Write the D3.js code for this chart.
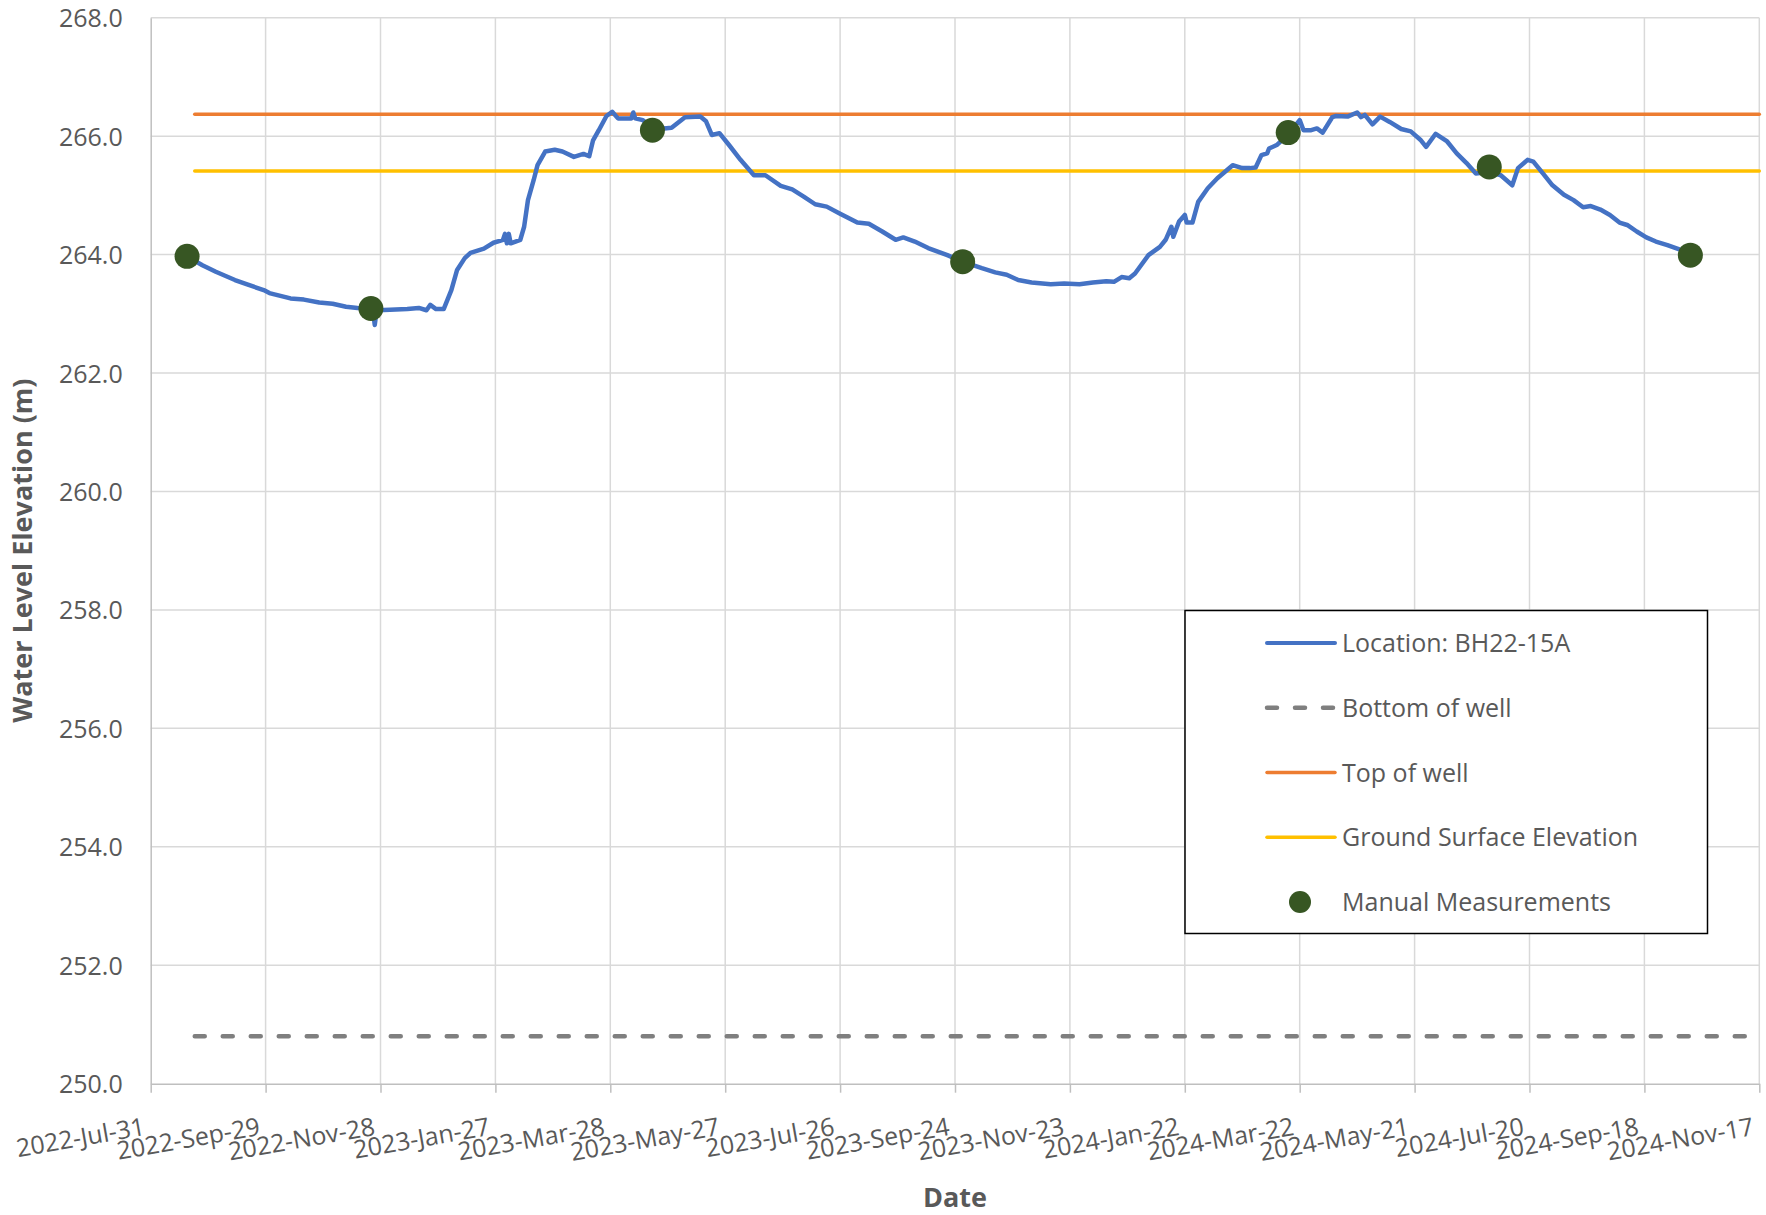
<!DOCTYPE html>
<html>
<head>
<meta charset="utf-8">
<script src="https://cdn.jsdelivr.net/npm/d3@7/dist/d3.min.js"></script>
<style>
  body { margin: 0; background: #fff; }
  text { font-family: "Open Sans", sans-serif; fill: #595959; }
</style>
</head>
<body>
<div id="chart"></div>
<script>
// logger readings
var loggerReadings = [
  ["2022-08-19", 263.97], ["2022-08-27", 263.82], ["2022-09-03", 263.71], ["2022-09-13", 263.57],
  ["2022-09-19", 263.50], ["2022-09-28", 263.40], ["2022-10-01", 263.35], ["2022-10-12", 263.26],
  ["2022-10-19", 263.24], ["2022-10-27", 263.19], ["2022-11-03", 263.17], ["2022-11-10", 263.12],
  ["2022-11-16", 263.10], ["2022-11-23", 263.09], ["2022-11-24", 263.08], ["2022-11-25", 262.81],
  ["2022-11-26", 263.06], ["2022-12-03", 263.07], ["2022-12-12", 263.08], ["2022-12-18", 263.10],
  ["2022-12-22", 263.06], ["2022-12-24", 263.15], ["2022-12-27", 263.08], ["2022-12-31", 263.08],
  ["2023-01-04", 263.40], ["2023-01-07", 263.74], ["2023-01-11", 263.94], ["2023-01-14", 264.03],
  ["2023-01-21", 264.10], ["2023-01-26", 264.20], ["2023-01-31", 264.25], ["2023-02-01", 264.35],
  ["2023-02-02", 264.19], ["2023-02-03", 264.35], ["2023-02-04", 264.19], ["2023-02-09", 264.25],
  ["2023-02-11", 264.47], ["2023-02-13", 264.92], ["2023-02-16", 265.26], ["2023-02-18", 265.51],
  ["2023-02-22", 265.74], ["2023-02-27", 265.77], ["2023-03-03", 265.74], ["2023-03-09", 265.65],
  ["2023-03-14", 265.70], ["2023-03-17", 265.66], ["2023-03-19", 265.93], ["2023-03-22", 266.10],
  ["2023-03-26", 266.34], ["2023-03-29", 266.41], ["2023-04-01", 266.30], ["2023-04-08", 266.30],
  ["2023-04-09", 266.40], ["2023-04-10", 266.30], ["2023-04-14", 266.27], ["2023-04-19", 266.12],
  ["2023-04-25", 266.13], ["2023-04-29", 266.14], ["2023-05-06", 266.32], ["2023-05-14", 266.33],
  ["2023-05-17", 266.25], ["2023-05-20", 266.02], ["2023-05-24", 266.05], ["2023-05-29", 265.85],
  ["2023-06-04", 265.60], ["2023-06-11", 265.34], ["2023-06-17", 265.34], ["2023-06-25", 265.16],
  ["2023-07-01", 265.10], ["2023-07-07", 264.98], ["2023-07-13", 264.85], ["2023-07-19", 264.81],
  ["2023-07-26", 264.69], ["2023-08-04", 264.54], ["2023-08-10", 264.52], ["2023-08-17", 264.39],
  ["2023-08-24", 264.25], ["2023-08-28", 264.29], ["2023-09-03", 264.22], ["2023-09-10", 264.11],
  ["2023-09-20", 263.99], ["2023-09-28", 263.88], ["2023-10-08", 263.77], ["2023-10-15", 263.70],
  ["2023-10-21", 263.66], ["2023-10-27", 263.57], ["2023-11-03", 263.53], ["2023-11-13", 263.50],
  ["2023-11-20", 263.51], ["2023-11-28", 263.50], ["2023-12-05", 263.53], ["2023-12-12", 263.55],
  ["2023-12-16", 263.54], ["2023-12-20", 263.62], ["2023-12-24", 263.60], ["2023-12-27", 263.68],
  ["2024-01-03", 263.99], ["2024-01-09", 264.13], ["2024-01-12", 264.25], ["2024-01-15", 264.47],
  ["2024-01-16", 264.30], ["2024-01-19", 264.56], ["2024-01-22", 264.67], ["2024-01-23", 264.54],
  ["2024-01-26", 264.54], ["2024-01-29", 264.89], ["2024-02-03", 265.12], ["2024-02-08", 265.29],
  ["2024-02-16", 265.51], ["2024-02-21", 265.46], ["2024-02-25", 265.46], ["2024-02-28", 265.47],
  ["2024-03-02", 265.68], ["2024-03-05", 265.71], ["2024-03-06", 265.79], ["2024-03-10", 265.85],
  ["2024-03-16", 266.03], ["2024-03-22", 266.27], ["2024-03-24", 266.10], ["2024-03-28", 266.10],
  ["2024-03-31", 266.13], ["2024-04-03", 266.06], ["2024-04-08", 266.32], ["2024-04-10", 266.34],
  ["2024-04-16", 266.33], ["2024-04-21", 266.40], ["2024-04-23", 266.32], ["2024-04-25", 266.36],
  ["2024-04-29", 266.20], ["2024-05-03", 266.33], ["2024-05-08", 266.24], ["2024-05-14", 266.12],
  ["2024-05-19", 266.08], ["2024-05-24", 265.94], ["2024-05-27", 265.82], ["2024-06-01", 266.04],
  ["2024-06-07", 265.91], ["2024-06-12", 265.71], ["2024-06-17", 265.55], ["2024-06-22", 265.37],
  ["2024-06-29", 265.40], ["2024-07-05", 265.34], ["2024-07-11", 265.17], ["2024-07-14", 265.46],
  ["2024-07-19", 265.60], ["2024-07-22", 265.57], ["2024-07-27", 265.37], ["2024-08-01", 265.17],
  ["2024-08-07", 265.01], ["2024-08-12", 264.92], ["2024-08-17", 264.80], ["2024-08-21", 264.82],
  ["2024-08-26", 264.76], ["2024-08-31", 264.67], ["2024-09-05", 264.54], ["2024-09-09", 264.50],
  ["2024-09-14", 264.39], ["2024-09-19", 264.29], ["2024-09-24", 264.22], ["2024-09-30", 264.16],
  ["2024-10-07", 264.08], ["2024-10-12", 263.99]
];

var manualDates = ["2022-08-19", "2022-11-23", "2023-04-19", "2023-09-28", "2024-03-16", "2024-06-29", "2024-10-12"];
var manualLevels = [263.97, 263.09, 266.10, 263.88, 266.06, 265.48, 263.99];

// constant reference levels
var refLines = [
  { name: "Bottom of well", level: 250.8, color: "#7f7f7f", dash: "10,18" },
  { name: "Top of well", level: 266.37, color: "#ed7d31", dash: null },
  { name: "Ground Surface Elevation", level: 265.41, color: "#ffc000", dash: null }
];
var refStart = "2022-08-23", refEnd = "2024-11-17";

var xTicks = ["2022-07-31", "2022-09-29", "2022-11-28", "2023-01-27", "2023-03-28", "2023-05-27",
  "2023-07-26", "2023-09-24", "2023-11-23", "2024-01-22", "2024-03-22", "2024-05-21",
  "2024-07-20", "2024-09-18", "2024-11-17"];
var yTicks = [250, 252, 254, 256, 258, 260, 262, 264, 266, 268];

var legendNames = ["Location: BH22-15A", "Bottom of well", "Top of well", "Ground Surface Elevation", "Manual Measurements"];

var parse = d3.timeParse("%Y-%m-%d");
var fmt = d3.timeFormat("%Y-%b-%d");

var W = 1766, H = 1215;
var margin = { top: 17.7, right: 6.7, bottom: 131.3, left: 150.7 };
var width = W - margin.left - margin.right,
  height = H - margin.top - margin.bottom;

var svg = d3
  .select("#chart")
  .append("svg")
  .attr("width", W)
  .attr("height", H)
  .append("g")
  .attr("transform", "translate(" + margin.left + ", " + margin.top + ")");

var x = d3
  .scaleTime()
  .domain([parse(xTicks[0]), parse(xTicks[xTicks.length - 1])])
  .range([0, width]);

var y = d3
  .scaleLinear()
  .domain([250, 268])
  .range([height, 0]);

// grid
svg
  .append("g")
  .selectAll("line")
  .data(yTicks.slice(1))
  .enter()
  .append("line")
  .attr("x1", 0)
  .attr("x2", width)
  .attr("y1", function(d) { return y(d); })
  .attr("y2", function(d) { return y(d); })
  .style("stroke", "#d9d9d9")
  .style("stroke-width", 1.5);

svg
  .append("g")
  .selectAll("line")
  .data(xTicks.slice(1))
  .enter()
  .append("line")
  .attr("x1", function(d) { return x(parse(d)); })
  .attr("x2", function(d) { return x(parse(d)); })
  .attr("y1", 0)
  .attr("y2", height)
  .style("stroke", "#d9d9d9")
  .style("stroke-width", 1.5);

// axes
var xAxis = svg
  .append("g")
  .attr("transform", "translate(0," + height + ")")
  .call(
    d3.axisBottom(x)
      .tickValues(xTicks.map(parse))
      .tickFormat(fmt)
      .tickSize(9)
      .tickSizeOuter(0)
  );
xAxis.select(".domain").style("stroke", "#bfbfbf").style("stroke-width", 1.5);
xAxis.selectAll(".tick line").style("stroke", "#bfbfbf").style("stroke-width", 1.5);
xAxis
  .selectAll(".tick text")
  .attr("y", 0)
  .attr("dy", 0)
  .attr("transform", "translate(-5,51) rotate(-10)")
  .style("text-anchor", "end")
  .style("font-size", "25px")
  .style("fill", "#595959");

var yAxis = svg
  .append("g")
  .call(
    d3.axisLeft(y)
      .tickValues(yTicks)
      .tickFormat(d3.format(".1f"))
      .tickSize(0)
      .tickPadding(28)
  );
yAxis.select(".domain").style("stroke", "#bfbfbf").style("stroke-width", 1.5);
yAxis
  .selectAll(".tick text")
  .attr("dy", "0.36em")
  .style("font-size", "25px")
  .style("fill", "#595959");

// reference lines
svg
  .append("g")
  .selectAll("line")
  .data(refLines)
  .enter()
  .append("line")
  .attr("x1", x(parse(refStart)))
  .attr("x2", x(parse(refEnd)))
  .attr("y1", function(d) { return y(d.level); })
  .attr("y2", function(d) { return y(d.level); })
  .style("stroke", function(d) { return d.color; })
  .style("stroke-width", function(d) { return d.dash ? 4.5 : 3.5; })
  .style("stroke-linecap", "round")
  .style("stroke-dasharray", function(d) { return d.dash; });

// logger line
var line = d3
  .line()
  .x(function(d) { return x(parse(d[0])); })
  .y(function(d) { return y(d[1]); });

svg
  .append("path")
  .datum(loggerReadings)
  .attr("d", line)
  .style("fill", "none")
  .style("stroke", "#4472c4")
  .style("stroke-width", 4.5)
  .style("stroke-linejoin", "round")
  .style("stroke-linecap", "round");

// manual measurements
svg
  .append("g")
  .selectAll("circle")
  .data(manualDates)
  .enter()
  .append("circle")
  .attr("cx", function(d) { return x(parse(d)); })
  .attr("cy", function(d, i) { return y(manualLevels[i]); })
  .attr("r", 12.5)
  .style("fill", "#375623");

// axis titles
svg
  .append("text")
  .attr("x", width / 2)
  .attr("y", H - margin.top - 8)
  .style("text-anchor", "middle")
  .style("font-size", "27px")
  .style("font-weight", "bold")
  .text("Date");

svg
  .append("text")
  .attr("transform", "translate(" + (32 - margin.left) + "," + height / 2 + ") rotate(-90)")
  .style("text-anchor", "middle")
  .style("font-size", "27px")
  .style("font-weight", "bold")
  .text("Water Level Elevation (m)");

// legend
var lg = svg
  .append("g")
  .attr("transform", "translate(" + (1185 - margin.left) + "," + (610.5 - margin.top) + ")");

lg.append("rect")
  .attr("width", 522.5)
  .attr("height", 323)
  .style("fill", "#fff")
  .style("stroke", "#000")
  .style("stroke-width", 1.5);

var styles = [
  { color: "#4472c4", dash: null, w: 4 },
  { color: refLines[0].color, dash: refLines[0].dash, w: 4.5 },
  { color: refLines[1].color, dash: null, w: 3.5 },
  { color: refLines[2].color, dash: null, w: 3.5 },
  null
];

var item = lg
  .selectAll(".item")
  .data(legendNames)
  .enter()
  .append("g")
  .attr("class", "item")
  .attr("transform", function(d, i) { return "translate(0," + (32.5 + i * 64.75) + ")"; });

item.each(function(d, i) {
  var g = d3.select(this);
  var s = styles[i];
  if (s) {
    g.append("line")
      .attr("x1", 82)
      .attr("x2", 150)
      .style("stroke", s.color)
      .style("stroke-width", s.w)
      .style("stroke-linecap", "round")
      .style("stroke-dasharray", s.dash);
  } else {
    g.append("circle")
      .attr("cx", 115)
      .attr("r", 11)
      .style("fill", "#375623");
  }
});

item
  .append("text")
  .attr("x", 157)
  .attr("dy", "0.36em")
  .style("font-size", "25px")
  .text(function(d) { return d; });
</script>
</body>
</html>
